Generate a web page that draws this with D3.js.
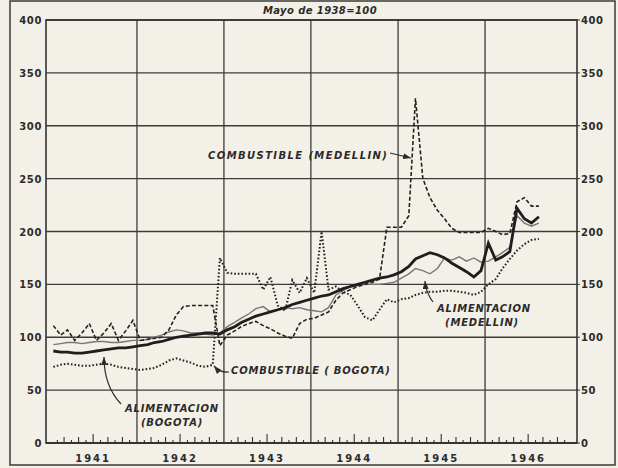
<!DOCTYPE html>
<html>
<head>
<meta charset="utf-8">
<script src="https://cdn.jsdelivr.net/npm/d3@7"></script>
<style>
  body { margin: 0; background: #f3f0e7; }
  svg { display: block; }
  text { font-family: "DejaVu Sans", sans-serif; fill: #2b2b2b; }
</style>
</head>
<body>
<script>
// monthly indices, Bogota y Medellin, Mayo de 1938 = 100
var startYear = 1941;
var years = [1941, 1942, 1943, 1944, 1945, 1946];
var yTicks = [0, 50, 100, 150, 200, 250, 300, 350, 400];

var alimBogota = [87,86,86,85,85,86,87,88,89,90,
  90,91,92,93,95,96,98,100,101,102,
  103,104,104,103,107,110,114,117,120,122,
  124,126,128,131,133,135,137,139,140,143,
  146,148,150,152,154,156,157,159,162,167,
  174,177,180,178,175,170,166,162,157,163,
  189,173,176,181,222,212,208,214];

var alimMedellin = [93,94,95,95,94,95,96,96,95,95,
  96,97,97,98,100,102,105,107,106,104,
  104,103,102,104,110,114,118,122,127,129,
  124,126,128,127,128,126,125,124,128,140,
  144,148,149,150,150,150,151,152,156,160,
  165,163,160,165,175,173,176,172,175,171,
  172,176,180,185,215,208,205,208];

var combBogota = [72,74,75,74,73,73,74,75,74,72,
  71,70,69,70,71,74,78,80,78,76,
  73,72,74,175,161,160,160,160,160,145,
  157,130,125,154,142,156,142,200,145,148,
  143,140,130,119,116,126,136,133,136,137,
  140,142,143,143,144,144,143,142,140,143,
  150,155,165,174,182,188,192,193];

var combMedellin = [111,102,107,97,104,113,97,104,113,97,
  106,116,97,98,99,100,107,121,129,130,
  130,130,130,92,102,106,110,113,115,111,
  108,104,101,99,113,117,118,121,124,135,
  142,145,148,150,152,155,204,204,204,215,
  326,250,232,220,212,203,199,199,199,199,
  203,200,197,198,228,232,224,224];

// set the dimensions and margins of the graph
var margin = {top: 20, right: 41, bottom: 25, left: 46},
    width = 618 - margin.left - margin.right,
    height = 468 - margin.top - margin.bottom;

// set the ranges
var x = d3.scaleTime()
    .domain([new Date(1941, 0, 1), new Date(1947, 0, 1)])
    .range([4, 526]);
var y = d3.scaleLinear().domain([0, 400]).range([height, 0]);

function monthDate(i) { return new Date(startYear, i, 15); }

var line = d3.line()
    .x(function(d, i) { return x(monthDate(i)); })
    .y(function(d) { return y(d); });

var root = d3.select("body")
    .append("svg")
        .attr("width", 618)
        .attr("height", 468);

// outer frame
root.append("rect")
    .attr("x", 10).attr("y", 1)
    .attr("width", 605).attr("height", 464)
    .style("fill", "none")
    .style("stroke", "#3a3a3a")
    .style("stroke-width", 1.5);

root.append("text")
    .attr("x", 320).attr("y", 14)
    .attr("text-anchor", "middle")
    .style("font-size", "10px")
    .style("font-weight", "bold")
    .style("font-style", "italic")
    .style("letter-spacing", "0.4px")
    .text("Mayo de 1938=100");

var svg = root.append("g")
    .attr("transform", "translate(" + margin.left + "," + margin.top + ")");

// grid
svg.selectAll(".hgrid")
    .data(yTicks)
  .enter().append("line")
    .attr("x1", 0).attr("x2", width)
    .attr("y1", function(d) { return y(d); })
    .attr("y2", function(d) { return y(d); })
    .style("stroke", "#3c3c3c")
    .style("stroke-width", function(d) { return d === 0 ? 2 : 1.3; });

svg.selectAll(".vgrid")
    .data(years.slice(1))
  .enter().append("line")
    .attr("x1", function(d) { return x(new Date(d, 0, 1)); })
    .attr("x2", function(d) { return x(new Date(d, 0, 1)); })
    .attr("y1", 0).attr("y2", height)
    .style("stroke", "#3c3c3c")
    .style("stroke-width", 1.3);

svg.append("rect")
    .attr("width", width).attr("height", height)
    .style("fill", "none")
    .style("stroke", "#333")
    .style("stroke-width", 1.6);

// monthly ticks on the bottom axis
var monthTicks = d3.timeMonth.range(new Date(1941, 0, 1), new Date(1947, 0, 1));
svg.selectAll(".mtick")
    .data(monthTicks)
  .enter().append("line")
    .attr("x1", function(d) { return x(d); })
    .attr("x2", function(d) { return x(d); })
    .attr("y1", height)
    .attr("y2", function(d) {
      var m = d.getMonth();
      if (m === 0) return height;
      return height - (m === 6 ? 9 : (m % 2 === 0 ? 6 : 3));
    })
    .style("stroke", "#333")
    .style("stroke-width", 1.1);

// axis labels
svg.selectAll(".ylab")
    .data(yTicks)
  .enter().append("text")
    .attr("x", -4)
    .attr("y", function(d) { return y(d) + 4; })
    .attr("text-anchor", "end")
    .style("font-size", "10px")
    .style("font-weight", "bold")
    .style("letter-spacing", "0.6px")
    .text(function(d) { return d; });

svg.selectAll(".ylabr")
    .data(yTicks)
  .enter().append("text")
    .attr("x", width + 4)
    .attr("y", function(d) { return y(d) + 4; })
    .style("font-size", "10px")
    .style("font-weight", "bold")
    .style("letter-spacing", "0.6px")
    .text(function(d) { return d; });

svg.selectAll(".ytickr")
    .data(yTicks)
  .enter().append("line")
    .attr("x1", width).attr("x2", width + 3)
    .attr("y1", function(d) { return y(d); })
    .attr("y2", function(d) { return y(d); })
    .style("stroke", "#333");

svg.selectAll(".xlab")
    .data(years)
  .enter().append("text")
    .attr("x", function(d) { return x(new Date(d, 6, 1)); })
    .attr("y", height + 19)
    .attr("text-anchor", "middle")
    .style("font-size", "10px")
    .style("font-weight", "bold")
    .style("letter-spacing", "2px")
    .text(function(d) { return d; });

// the four series
svg.append("path")
    .datum(alimMedellin)
    .style("fill", "none")
    .style("stroke", "#777")
    .style("stroke-width", 1.4)
    .attr("d", line);

svg.append("path")
    .datum(combBogota)
    .style("fill", "none")
    .style("stroke", "#222")
    .style("stroke-width", 2)
    .style("stroke-dasharray", "1.6,2")
    .attr("d", line);

svg.append("path")
    .datum(combMedellin)
    .style("fill", "none")
    .style("stroke", "#222")
    .style("stroke-width", 1.6)
    .style("stroke-dasharray", "4,2.2")
    .attr("d", line);

svg.append("path")
    .datum(alimBogota)
    .style("fill", "none")
    .style("stroke", "#1e1e1e")
    .style("stroke-width", 2.8)
    .attr("d", line);

// labels and arrows
root.append("defs").append("marker")
    .attr("id", "arrow")
    .attr("viewBox", "0 0 8 6")
    .attr("refX", 8).attr("refY", 3)
    .attr("markerWidth", 8).attr("markerHeight", 6)
    .attr("markerUnits", "userSpaceOnUse")
    .attr("orient", "auto")
  .append("path")
    .attr("d", "M0,0L8,3L0,6z")
    .style("fill", "#2b2b2b");

var arrows = [
  "M390,153 L411,158",
  "M433,302 Q426,293 425,281",
  "M229,372 Q220,373 214,366",
  "M121,404 Q104,386 104,357"
];
root.selectAll(".arrow")
    .data(arrows)
  .enter().append("path")
    .attr("d", function(d) { return d; })
    .style("fill", "none")
    .style("stroke", "#2b2b2b")
    .style("stroke-width", 1.2)
    .attr("marker-end", "url(#arrow)");

var notes = [
  {t: "COMBUSTIBLE (MEDELLIN)", x: 208, y: 159, a: "start", ls: 1.4},
  {t: "ALIMENTACION", x: 484, y: 312, a: "middle", ls: 0.8},
  {t: "(MEDELLIN)", x: 482, y: 326, a: "middle", ls: 0.8},
  {t: "COMBUSTIBLE ( BOGOTA)", x: 231, y: 374, a: "start", ls: 0.8},
  {t: "ALIMENTACION", x: 172, y: 412, a: "middle", ls: 0.8},
  {t: "(BOGOTA)", x: 172, y: 426, a: "middle", ls: 0.8}
];
root.selectAll(".note")
    .data(notes)
  .enter().append("text")
    .attr("x", function(d) { return d.x; })
    .attr("y", function(d) { return d.y; })
    .attr("text-anchor", function(d) { return d.a; })
    .style("font-size", "10px")
    .style("font-weight", "bold")
    .style("font-style", "italic")
    .style("letter-spacing", function(d) { return d.ls + "px"; })
    .text(function(d) { return d.t; });
</script>
</body>
</html>
